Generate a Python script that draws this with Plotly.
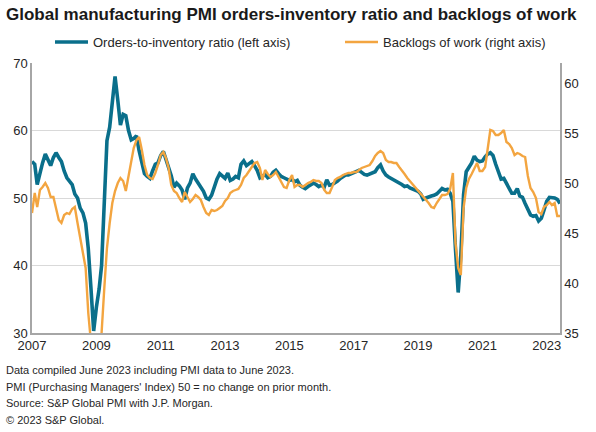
import pandas as pd
import plotly.graph_objects as go

# Monthly data, Jan 2007 - Jun 2023
months = pd.date_range("2007-01-01", "2023-06-01", freq="MS")

orders_inventory = [
    # 2007
    55.4, 55.0, 52.0, 53.8, 55.2, 56.5, 55.6, 54.8, 56.0, 56.7, 56.0, 55.4,
    # 2008
    54.0, 53.0, 52.5, 52.0, 50.6, 50.0, 48.5, 47.8, 46.3, 42.5, 36.5, 30.3,
    # 2009
    33.8, 36.5, 40.0, 50.0, 58.5, 60.5, 64.5, 68.0, 64.5, 60.8, 62.4, 62.2,
    # 2010
    60.0, 58.6, 58.8, 59.2, 57.0, 55.5, 53.6, 53.2, 52.9, 54.0, 55.0, 55.2,
    # 2011
    56.3, 56.9, 55.8, 54.8, 53.3, 51.6, 52.2, 51.8, 51.2, 49.8, 51.5, 52.2,
    # 2012
    53.6, 52.8, 52.2, 51.8, 51.0, 50.0, 49.8, 50.4, 51.7, 52.8, 53.6, 53.2,
    # 2013
    52.9, 53.7, 52.6, 52.8, 53.2, 53.0, 55.0, 55.5, 54.8, 55.1, 55.4, 54.8,
    # 2014
    54.1, 53.0, 53.3, 53.5, 53.0, 53.2, 53.8, 54.1, 53.6, 53.2, 53.0, 52.8,
    # 2015
    52.6, 52.8, 52.4, 52.6, 51.9, 51.6, 51.4, 51.7, 51.9, 52.2, 52.0, 51.7,
    # 2016
    51.9, 51.6, 52.7, 51.9, 52.0, 52.2, 52.5, 52.9, 53.2, 53.4, 53.4, 53.6,
    # 2017
    53.7, 53.9, 54.1, 53.8, 53.5, 53.4, 53.6, 53.7, 53.9, 54.5, 54.9, 54.0,
    # 2018
    53.4, 53.1, 52.9, 52.6, 52.4, 52.3, 52.0, 51.7, 51.8, 51.5, 51.3, 51.2,
    # 2019
    51.0, 50.6, 49.8, 50.0, 50.2, 50.3, 50.4, 50.6, 51.0, 51.4, 51.2, 51.3,
    # 2020
    50.7, 49.5, 42.5, 36.0, 41.5, 50.5, 53.9, 54.5, 55.2, 56.2, 55.6, 55.4,
    # 2021
    55.5, 56.1, 56.5, 56.7, 56.3, 55.0, 53.7, 52.8, 52.9, 52.2, 51.5, 50.7,
    # 2022
    50.7, 51.4, 50.3, 50.1, 49.2, 48.2, 47.5, 47.3, 47.4, 46.6, 47.0, 48.2,
    # 2023
    49.5, 50.1, 50.1, 50.0, 49.8, 49.2,
]

backlogs = [
    # 2007
    47.0, 49.0, 47.6, 49.3, 49.6, 50.0, 49.5, 48.6, 48.6, 47.6, 46.3, 46.0,
    # 2008
    46.8, 47.0, 46.9, 47.4, 47.6, 46.0, 44.6, 43.3, 41.5, 37.0, 34.0, 33.0,
    # 2009
    32.8, 33.5, 35.0, 39.5, 43.5, 46.0, 48.0, 49.2, 50.0, 50.5, 50.2, 49.2,
    # 2010
    50.6, 52.3, 53.5, 54.3, 54.6, 53.3, 51.8, 50.8, 50.5, 50.4, 51.0, 51.8,
    # 2011
    52.8, 53.1, 52.5, 51.5, 49.8, 49.2, 49.0, 48.5, 48.1, 49.1, 48.6, 48.1,
    # 2012
    48.4, 48.8, 48.6, 48.3, 47.6, 47.0, 46.8, 47.3, 47.2, 47.3, 47.5, 47.7,
    # 2013
    48.2, 48.5, 49.0, 49.2, 49.3, 49.4, 49.8, 50.5, 50.8, 51.2, 51.6, 52.0,
    # 2014
    52.1, 51.5, 50.3, 51.3, 50.9, 50.6, 50.8, 51.1, 50.6, 50.1, 49.6, 49.5,
    # 2015
    50.3, 50.8, 49.6, 49.8, 49.8, 49.6, 49.8, 50.0, 50.1, 50.3, 50.2, 50.2,
    # 2016
    50.0, 49.3, 49.0, 49.0, 49.6, 50.3, 50.5, 50.6, 50.8, 50.9, 51.0, 51.0,
    # 2017
    51.1, 51.1, 51.3, 51.5, 51.6, 51.7, 51.8, 52.2, 52.7, 53.0, 53.2, 53.0,
    # 2018
    52.3, 52.1, 52.1, 52.0, 52.0, 51.6, 51.3, 50.9, 50.5, 50.2, 49.9, 49.6,
    # 2019
    49.2, 48.9, 48.6, 48.3, 48.0, 47.6, 47.5, 48.0, 48.4, 48.8, 48.8, 48.9,
    # 2020
    49.4, 51.0, 44.0, 41.5, 40.8, 47.5, 49.5, 50.4, 50.9, 51.5, 52.0, 51.2,
    # 2021
    51.2, 51.6, 53.5, 55.3, 55.2, 54.8, 54.8, 55.0, 55.3, 54.1, 53.9, 53.5,
    # 2022
    52.8, 53.0, 52.9, 52.7, 52.6, 50.7, 49.5, 49.1, 48.5, 47.1, 46.9, 47.6,
    # 2023
    47.8, 48.1, 47.8, 48.0, 46.7, 46.7,
]

series_names = ["Orders-to-inventory ratio (left axis)", "Backlogs of work (right axis)"]
year_ticks = ["2007", "2009", "2011", "2013", "2015", "2017", "2019", "2021", "2023"]
left_ticks = [30, 40, 50, 60, 70]
right_ticks = [35, 40, 45, 50, 55, 60]

footer_lines = [
    "Data compiled June 2023 including PMI data to June 2023.",
    "PMI (Purchasing Managers' Index) 50 = no change on prior month.",
    "Source: S&P Global PMI with J.P. Morgan.",
    "© 2023 S&P Global.",
]

TEAL = "#0a6f8b"
ORANGE = "#f3a540"
FONT = "Liberation Sans, Arial, sans-serif"
TXT = "#262626"

fig = go.Figure()
fig.add_trace(go.Scatter(
    x=months, y=orders_inventory, mode="lines", name=series_names[0],
    line=dict(color=TEAL, width=3.6), yaxis="y", showlegend=False,
))
fig.add_trace(go.Scatter(
    x=months, y=backlogs, mode="lines", name=series_names[1],
    line=dict(color=ORANGE, width=2.4), yaxis="y2", showlegend=False,
))

W, H = 596, 432
ml, mr, mt, mb = 32, 36, 63, 99
PW, PH = W - ml - mr, H - mt - mb


def px_x(x):
    return (x - ml) / PW


def px_y(y):
    return (H - mb - y) / PH


annotations = []
shapes = []
for i, line in enumerate(footer_lines):
    ypx = 370 + i * 16.5
    annotations.append(dict(
        text=line, xref="paper", yref="paper",
        x=px_x(4), y=px_y(ypx),
        xanchor="left", yanchor="middle", showarrow=False,
        font=dict(family=FONT, size=11, color=TXT),
    ))

# legend (drawn manually)
legend_y = 42
for (x0, x1, tx), name, col, w in zip(
    [(55, 88, 91), (345, 378, 381)], series_names, [TEAL, ORANGE], [3.6, 2.6]
):
    shapes.append(dict(type="line", xref="paper", yref="paper",
                       x0=px_x(x0), x1=px_x(x1), y0=px_y(legend_y), y1=px_y(legend_y),
                       line=dict(color=col, width=w)))
    annotations.append(dict(
        text=name, xref="paper", yref="paper", x=px_x(tx), y=px_y(legend_y),
        xanchor="left", yanchor="middle", showarrow=False,
        font=dict(family=FONT, size=13, color=TXT),
    ))

fig.update_layout(
    width=W, height=H,
    margin=dict(l=ml, r=mr, t=mt, b=mb),
    paper_bgcolor="white", plot_bgcolor="white",
    font=dict(family=FONT, color=TXT),
    showlegend=False,
    title=dict(
        text="<b>Global manufacturing PMI orders-inventory ratio and backlogs of work</b>",
        x=6 / W, xref="container", xanchor="left",
        y=1 - 14 / H, yref="container", yanchor="middle",
        font=dict(family=FONT, size=17, color="#1a1a1a"),
    ),
    xaxis=dict(
        type="date", range=["2007-01-01", "2023-06-01"],
        tickvals=[f"{y}-01-01" for y in year_ticks], ticktext=year_ticks,
        showgrid=False, showline=True, linecolor="#a6a6a6", linewidth=1.5,
        ticks="", tickfont=dict(size=13, color=TXT), zeroline=False,
    ),
    yaxis=dict(
        range=[30, 70], tickvals=left_ticks, showgrid=True, gridcolor="#d9d9d9",
        gridwidth=1, showline=True, linecolor="#a6a6a6", linewidth=1.5,
        ticks="", tickfont=dict(size=13, color=TXT), zeroline=False,
    ),
    yaxis2=dict(
        range=[35, 62], tickvals=right_ticks, overlaying="y", side="right",
        showgrid=False, showline=True, linecolor="#a6a6a6", linewidth=1.5,
        ticks="", tickfont=dict(size=13, color=TXT), zeroline=False,
    ),
    annotations=annotations,
    shapes=shapes,
)

fig.write_html("out.html", config={"displayModeBar": False},
               post_script="document.body.style.margin='0';")
